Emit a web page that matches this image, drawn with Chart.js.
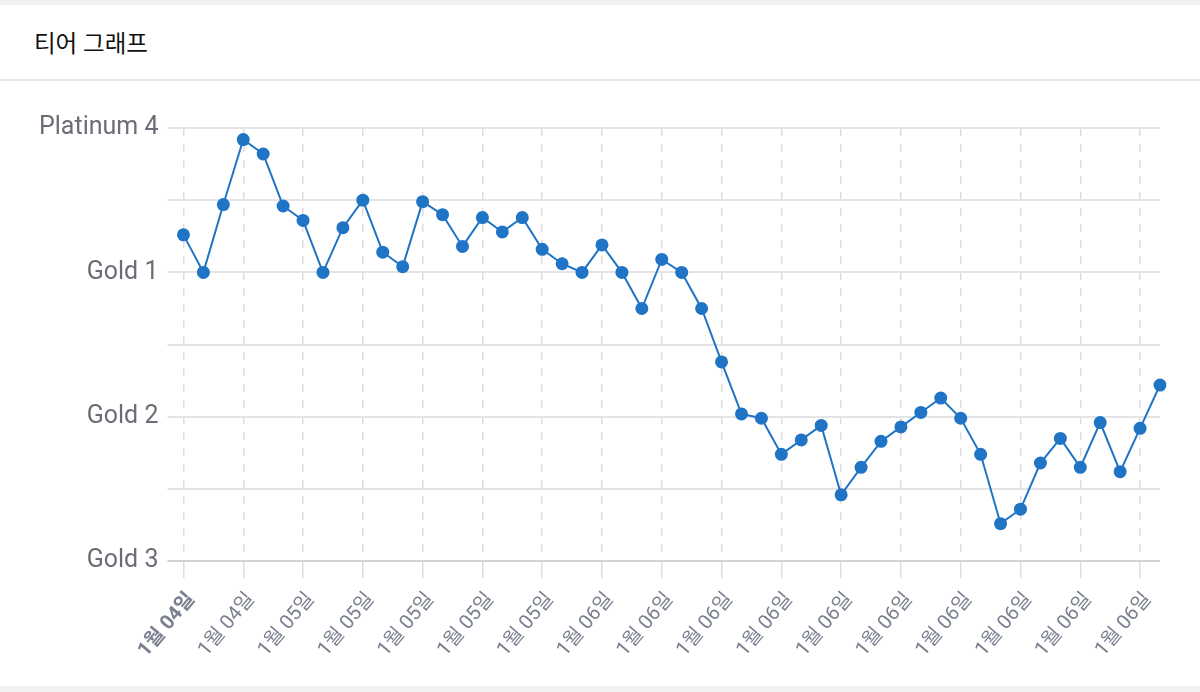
<!DOCTYPE html>
<html lang="ko">
<head>
<meta charset="utf-8">
<title>티어 그래프</title>
<script src="https://cdn.jsdelivr.net/npm/chart.js@4.4.1/dist/chart.umd.min.js"></script>
<style>
  html, body {
    margin: 0;
    padding: 0;
    background: #f1f1f3;
    font-family: Roboto, "Noto Sans CJK KR", sans-serif;
  }
  .card {
    position: absolute;
    left: 0;
    top: 5px;
    width: 1200px;
    height: 681px;
    background: #ffffff;
  }
  .card-header {
    height: 76px;
    border-bottom: 2px solid #e8e8ea;
    box-sizing: border-box;
    padding: 20px 0 0 34px;
    font-size: 23.5px;
    color: #111;
  }
  .chart-box {
    position: relative;
    width: 1200px;
    height: 605px;
  }
</style>
</head>
<body>
<div class="card">
  <div class="card-header">티어 그래프</div>
  <div class="chart-box"><canvas id="tierChart"></canvas></div>
</div>

<script>
// 날짜 라벨 (게임별)
const dateLabels = [
  '1월 04일', '1월 04일', '1월 04일', '1월 04일', '1월 04일', '1월 04일',
  '1월 05일', '1월 05일', '1월 05일', '1월 05일', '1월 05일', '1월 05일',
  '1월 05일', '1월 05일', '1월 05일', '1월 05일', '1월 05일', '1월 05일',
  '1월 05일', '1월 05일', '1월 05일',
  '1월 06일', '1월 06일', '1월 06일', '1월 06일', '1월 06일', '1월 06일',
  '1월 06일', '1월 06일', '1월 06일', '1월 06일', '1월 06일', '1월 06일',
  '1월 06일', '1월 06일', '1월 06일', '1월 06일', '1월 06일', '1월 06일',
  '1월 06일', '1월 06일', '1월 06일', '1월 06일', '1월 06일', '1월 06일',
  '1월 06일', '1월 06일', '1월 06일', '1월 06일', '1월 06일'
];

// 티어 점수 (Gold 3 = 0, Gold 2 = 100, Gold 1 = 200, Platinum 4 = 300)
const tierScores = [
  226, 200, 247, 292, 282, 246, 236, 200, 231, 250,
  214, 204, 249, 240, 218, 238, 228, 238, 216, 206,
  200, 219, 200, 175, 209, 200, 175, 138, 102, 99,
  74, 84, 94, 46, 65, 83, 93, 103, 113, 99,
  74, 26, 36, 68, 85, 65, 96, 62, 92, 122
];

// y축 라벨
const tierTickValues = [0, 100, 200, 300];
const tierTickNames = ['Gold 3', 'Gold 2', 'Gold 1', 'Platinum 4'];

const lineColor = '#1f74c6';
const fontFamily = 'Roboto, "Noto Sans CJK KR", sans-serif';

new Chart(document.getElementById('tierChart'), {
  type: 'line',
  data: {
    labels: dateLabels,
    datasets: [{
      label: '티어',
      data: tierScores,
      borderColor: lineColor,
      backgroundColor: lineColor,
      borderWidth: 2,
      pointRadius: 6.5,
      pointBackgroundColor: lineColor,
      pointBorderColor: lineColor,
      pointBorderWidth: 0,
      tension: 0,
      fill: false
    }]
  },
  options: {
    responsive: true,
    maintainAspectRatio: false,
    animation: false,
    layout: {
      padding: { top: 47, right: 40, bottom: 14, left: 30 }
    },
    plugins: {
      legend: { display: false },
      tooltip: { enabled: false }
    },
    scales: {
      x: {
        offset: false,
        grid: {
          color: '#dedee0',
          lineWidth: 1.5,
          tickLength: 17
        },
        border: { dash: [8, 8], display: false },
        ticks: {
          autoSkip: false,
          minRotation: 50,
          maxRotation: 50,
          padding: 10,
          labelOffset: 8,
          color: '#7b8090',
          font: function(context) {
            return {
              family: fontFamily,
              size: 20,
              weight: context.index === 0 ? 'bold' : 'normal'
            };
          },
          callback: function(value, index) {
            return index % 3 === 0 ? dateLabels[index] : null;
          }
        }
      },
      y: {
        min: 0,
        max: 300,
        grid: {
          color: function(context) {
            return context.tick && context.tick.value === 0 ? '#d2d2d4' : '#e4e4e6';
          },
          lineWidth: 2,
          tickLength: 16
        },
        border: { display: false },
        ticks: {
          stepSize: 50,
          padding: 9,
          color: '#6b6d76',
          font: { family: fontFamily, size: 25 },
          callback: function(value) {
            const i = tierTickValues.indexOf(value);
            return i >= 0 ? tierTickNames[i] : '';
          }
        }
      }
    }
  }
});
</script>
</body>
</html>
